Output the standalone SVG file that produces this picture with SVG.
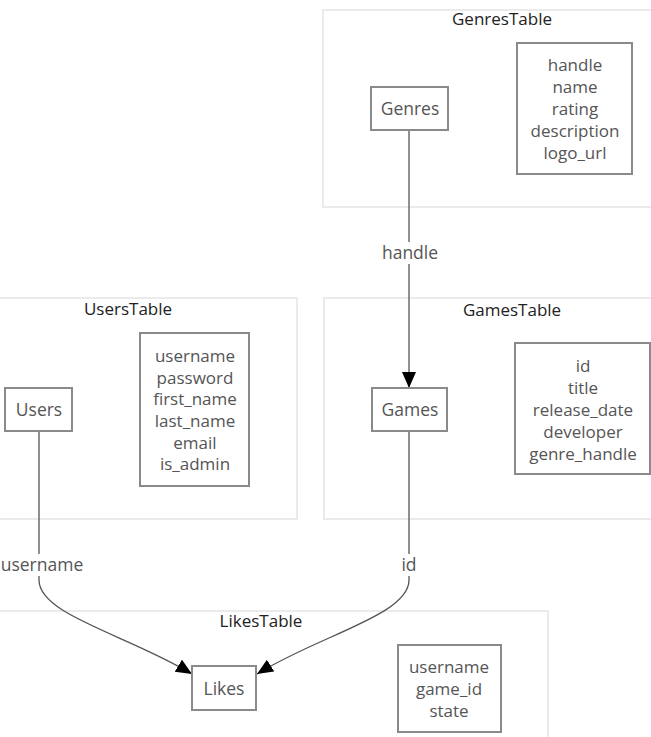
<svg xmlns="http://www.w3.org/2000/svg" width="651" height="737" viewBox="0 0 651 737">
<style>
.cluster{fill:#ffffff;stroke:#ebebeb;stroke-width:2}
.ctitle{font-family:"Open Sans",sans-serif;font-size:17px;fill:#222;text-anchor:middle;dominant-baseline:central}
.node{fill:#ffffff;stroke:#8a8a8a;stroke-width:2}
.t{font-family:"Open Sans",sans-serif;font-size:17.5px;fill:#555;text-anchor:middle;dominant-baseline:central}
.f{font-family:"Open Sans",sans-serif;font-size:17px;fill:#555;text-anchor:middle;dominant-baseline:central}
.edge{fill:none;stroke:#555;stroke-width:1.3}
.lblbg{fill:#ffffff}
</style>
<defs>
<marker id="arr" markerUnits="userSpaceOnUse" markerWidth="17" markerHeight="15" refX="16" refY="7" orient="auto">
<path d="M0,0 L16,7 L0,14 z" fill="#000"/>
</marker>
</defs>
<g id="GenresTable">
<rect class="cluster" x="323" y="10" width="345" height="197"/>
<text class="ctitle" x="502" y="18">GenresTable</text>
</g>
<g id="UsersTable">
<rect class="cluster" x="-10" y="298" width="307" height="221"/>
<text class="ctitle" x="128" y="308">UsersTable</text>
</g>
<g id="GamesTable">
<rect class="cluster" x="324" y="298" width="345" height="221"/>
<text class="ctitle" x="512" y="309">GamesTable</text>
</g>
<g id="LikesTable">
<rect class="cluster" x="-10" y="611" width="558" height="140"/>
<text class="ctitle" x="261" y="620">LikesTable</text>
</g>
<g id="connectors">
<path class="edge" d="M409,130 V388" marker-end="url(#arr)"/>
<path class="edge" d="M39,431 V580 C39,615 128,635 192,674" marker-end="url(#arr)"/>
<path class="edge" d="M409,431 V580 C409,615 320,635 257,674" marker-end="url(#arr)"/>
<rect class="lblbg" x="380" y="242" width="59" height="22"/>
<text class="t" x="410" y="252">handle</text>
<rect class="lblbg" x="0" y="554" width="84" height="22"/>
<text class="t" x="42" y="564">username</text>
<rect class="lblbg" x="401" y="554" width="17" height="22"/>
<text class="t" x="409" y="564">id</text>
</g>
<g id="Genres">
<rect class="node" x="371" y="87" width="77" height="43"/>
<text class="t" x="410" y="108">Genres</text>
</g>
<g id="GenresFields">
<rect class="node" x="517" y="43" width="115" height="131"/>
<text class="f" x="575" y="64">handle</text>
<text class="f" x="575" y="86">name</text>
<text class="f" x="575" y="108">rating</text>
<text class="f" x="575" y="130">description</text>
<text class="f" x="575" y="152">logo_url</text>
</g>
<g id="Users">
<rect class="node" x="5" y="388" width="67" height="43"/>
<text class="t" x="39" y="409">Users</text>
</g>
<g id="UsersFields">
<rect class="node" x="140" y="333" width="109" height="153"/>
<text class="f" x="195" y="355">username</text>
<text class="f" x="195" y="377">password</text>
<text class="f" x="195" y="398">first_name</text>
<text class="f" x="195" y="420">last_name</text>
<text class="f" x="195" y="442">email</text>
<text class="f" x="195" y="463">is_admin</text>
</g>
<g id="Games">
<rect class="node" x="372" y="388" width="75" height="43"/>
<text class="t" x="410" y="409">Games</text>
</g>
<g id="GamesFields">
<rect class="node" x="515" y="343" width="135" height="131"/>
<text class="f" x="583" y="365">id</text>
<text class="f" x="583" y="387">title</text>
<text class="f" x="583" y="409">release_date</text>
<text class="f" x="583" y="431">developer</text>
<text class="f" x="583" y="453">genre_handle</text>
</g>
<g id="Likes">
<rect class="node" x="192" y="666" width="64" height="44"/>
<text class="t" x="224" y="688">Likes</text>
</g>
<g id="LikesFields">
<rect class="node" x="398" y="645" width="103" height="87"/>
<text class="f" x="449" y="666">username</text>
<text class="f" x="449" y="688">game_id</text>
<text class="f" x="449" y="710">state</text>
</g>
</svg>
